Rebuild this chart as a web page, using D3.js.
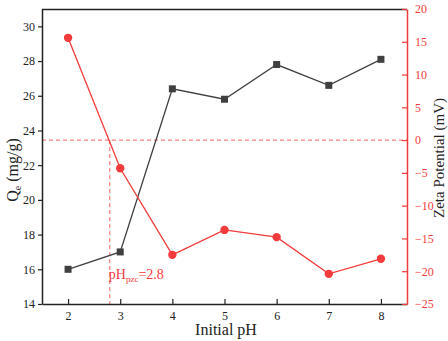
<!DOCTYPE html>
<html><head><meta charset="utf-8">
<script src="https://cdn.jsdelivr.net/npm/d3@7"></script>
<style>body{margin:0;background:#fff}svg{display:block}</style>
</head><body><div id="c"></div>
<script>
const phValues = [2, 3, 4, 5, 6, 7, 8];
const qeValues = [16.0, 17.0, 26.4, 25.8, 27.8, 26.6, 28.1];
const zetaValues = [15.6, -4.3, -17.5, -13.7, -14.8, -20.4, -18.1];
const xTicks = [2, 3, 4, 5, 6, 7, 8];
const leftTicks = [14, 16, 18, 20, 22, 24, 26, 28, 30];
const rightTicks = [-25, -20, -15, -10, -5, 0, 5, 10, 15, 20];
const pzc = 2.8;

const FONT = "'Liberation Serif', 'Times New Roman', serif";
const W = 448, H = 341;
const L = 42, R = 407, T = 9, B = 304;
const red = "#f43b3b", dark = "#404040";
const svg = d3.select("#c").append("svg").attr("width", W).attr("height", H)
  .attr("font-family", FONT);

const x = d3.scaleLinear().domain([1.5, 8.5]).range([L, R]);
const yL = d3.scaleLinear().domain([14, 31]).range([B, T]);
const yR = d3.scaleLinear().domain([-25, 20]).range([B, T]);

// reference lines
svg.append("line").attr("x1", L).attr("x2", R).attr("y1", yR(0)).attr("y2", yR(0))
  .attr("stroke", red).attr("stroke-width", 1).attr("stroke-dasharray", "4,3").attr("opacity", 0.8);
svg.append("line").attr("x1", x(pzc)).attr("x2", x(pzc)).attr("y1", yR(0)).attr("y2", B)
  .attr("stroke", red).attr("stroke-width", 1).attr("stroke-dasharray", "4,3").attr("opacity", 0.8);

// frame top
svg.append("line").attr("x1", L).attr("x2", R).attr("y1", T + 0.5).attr("y2", T + 0.5).attr("stroke", "#222").attr("stroke-width", 1.5);

// axes
const gx = svg.append("g").attr("transform", `translate(0,${B})`)
  .call(d3.axisBottom(x).tickValues(xTicks).tickFormat(d3.format("d")).tickSizeInner(-5).tickSizeOuter(0).tickPadding(7));
gx.attr("font-family", FONT);
gx.select(".domain").attr("stroke", "#222").attr("stroke-width", 1.5);
gx.selectAll(".tick line").attr("stroke", "#222").attr("stroke-width", 1.2);
gx.selectAll("text").attr("font-size", 12).attr("fill", "#222").attr("font-family", FONT);

const gl = svg.append("g").attr("transform", `translate(${L},0)`)
  .call(d3.axisLeft(yL).tickValues(leftTicks).tickSizeInner(4).tickSizeOuter(0).tickPadding(3));
gl.attr("font-family", FONT);
gl.select(".domain").attr("stroke", "#222").attr("stroke-width", 1.5);
gl.selectAll(".tick line").attr("stroke", "#222").attr("stroke-width", 1.2);
gl.selectAll("text").attr("font-size", 12).attr("fill", "#222").attr("font-family", FONT);

const gr = svg.append("g").attr("transform", `translate(${R},0)`)
  .call(d3.axisRight(yR).tickValues(rightTicks).tickSizeInner(-5).tickSizeOuter(0).tickPadding(8));
gr.attr("font-family", FONT);
gr.select(".domain").attr("stroke", red).attr("stroke-width", 1.5);
gr.selectAll(".tick line").attr("stroke", red).attr("stroke-width", 1.2);
gr.selectAll("text").attr("font-size", 12).attr("fill", red).attr("font-family", FONT);

// series lines
const qeLine = d3.line().x((d, i) => x(phValues[i])).y(d => yL(d));
const zLine = d3.line().x((d, i) => x(phValues[i])).y(d => yR(d));
svg.append("path").attr("d", qeLine(qeValues)).attr("fill", "none").attr("stroke", dark).attr("stroke-width", 1.3);
svg.append("path").attr("d", zLine(zetaValues)).attr("fill", "none").attr("stroke", red).attr("stroke-width", 1.3);

svg.selectAll(".sq").data(qeValues).enter().append("rect")
  .attr("x", (d, i) => x(phValues[i]) - 3.5).attr("y", d => yL(d) - 3.5)
  .attr("width", 7).attr("height", 7).attr("fill", dark);
svg.selectAll(".ci").data(zetaValues).enter().append("circle")
  .attr("cx", (d, i) => x(phValues[i])).attr("cy", d => yR(d)).attr("r", 4.2).attr("fill", red);

// annotation
const ann = svg.append("text").attr("x", x(pzc) - 1).attr("y", 279).attr("fill", red).attr("font-size", 14);
ann.append("tspan").text("pH");
ann.append("tspan").attr("font-size", 9).attr("dy", 3).text("pzc");
ann.append("tspan").attr("dy", -3).text("=2.8");

// axis titles
svg.append("text").attr("x", 226).attr("y", 335).attr("text-anchor", "middle")
  .attr("font-size", 16).attr("fill", "#222").text("Initial pH");
const tl = svg.append("text").attr("transform", `translate(18,170) rotate(-90)`)
  .attr("text-anchor", "middle").attr("font-size", 16).attr("fill", "#222");
tl.append("tspan").text("Q");
tl.append("tspan").attr("font-size", 10).attr("dy", 3).text("e");
tl.append("tspan").attr("dy", -3).text(" (mg/g)");
svg.append("text").attr("transform", `translate(444,158) rotate(-90)`)
  .attr("text-anchor", "middle").attr("font-size", 15).attr("fill", "#222").text("Zeta Potential (mV)");
</script></body></html>
